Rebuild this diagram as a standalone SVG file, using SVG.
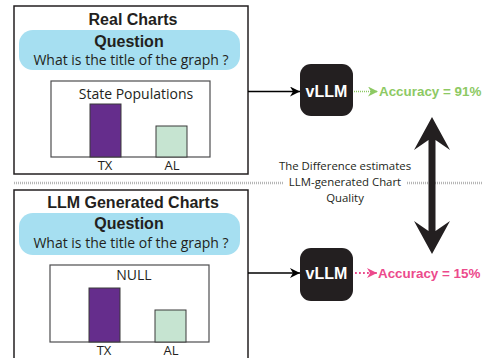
<svg xmlns="http://www.w3.org/2000/svg" width="483" height="358" viewBox="0 0 483 358">
<defs>
<style>
.box{fill:#fff;stroke:#231f20;stroke-width:1.5}
.pill{fill:#a6dff1}
.chart{fill:#fff;stroke:#4d4d4f;stroke-width:1.2}
.tx{fill:#652d8c;stroke:#3a3a3a;stroke-width:1}
.al{fill:#c6e4d1;stroke:#3a3a3a;stroke-width:1}
.h{font-family:"Liberation Sans",Arial,sans-serif;font-weight:bold;font-size:16px;fill:#231f20;text-anchor:middle}
.q{font-family:"Open Sans","Liberation Sans",sans-serif;font-size:14px;fill:#231f20;text-anchor:middle}
.lab{font-family:"Open Sans","Liberation Sans",sans-serif;font-size:13px;fill:#231f20;text-anchor:middle}
.vl{fill:#231f20}
.vt{font-family:"Liberation Sans",Arial,sans-serif;font-weight:bold;font-size:16px;fill:#fff;text-anchor:middle}
.acc{font-family:"Liberation Sans",Arial,sans-serif;font-weight:bold;font-size:13.4px}
.note{font-family:"Open Sans","Liberation Sans",sans-serif;font-size:11.4px;fill:#231f20;text-anchor:middle}
</style>
<marker id="ab" viewBox="0 0 10 10" refX="10" refY="5" markerWidth="10" markerHeight="10" markerUnits="userSpaceOnUse" orient="auto">
<path d="M0,0 L10,5 L0,10 L3,5 Z" fill="#000"/>
</marker>
<marker id="ag" viewBox="0 0 10 10" refX="10" refY="5" markerWidth="10" markerHeight="10" markerUnits="userSpaceOnUse" orient="auto">
<path d="M0,0 L10,5 L0,10 L3,5 Z" fill="#8dc963"/>
</marker>
<marker id="ap" viewBox="0 0 10 10" refX="10" refY="5" markerWidth="10" markerHeight="10" markerUnits="userSpaceOnUse" orient="auto">
<path d="M0,0 L10,5 L0,10 L3,5 Z" fill="#ec4a8c"/>
</marker>
</defs>
<rect width="483" height="358" fill="#fff"/>

<g id="separator">
<line x1="14" y1="183" x2="284" y2="183" stroke="#b5b5b5" stroke-width="2.5" stroke-dasharray="1 1"/>
<line x1="407" y1="183" x2="483" y2="183" stroke="#b5b5b5" stroke-width="2.5" stroke-dasharray="1 1"/>
</g>

<g id="real-charts">
<rect class="box" x="14" y="6" width="234" height="168"/>
<text class="h" x="133" y="25">Real Charts</text>
<rect class="pill" x="19" y="30" width="221" height="40" rx="14"/>
<text class="h" x="129" y="46.5">Question</text>
<text class="q" x="131" y="65">What is the title of the graph ?</text>
<rect class="chart" x="51" y="81" width="159" height="76"/>
<text class="q" x="136" y="99">State Populations</text>
<rect class="tx" x="90" y="104" width="31" height="53"/>
<rect class="al" x="156" y="126" width="31" height="31"/>
<text class="lab" x="105" y="170">TX</text>
<text class="lab" x="172" y="170">AL</text>
</g>

<g id="llm-charts">
<rect class="box" x="14" y="190" width="234" height="180"/>
<text class="h" x="133" y="208">LLM Generated Charts</text>
<rect class="pill" x="19" y="213" width="221" height="42" rx="14"/>
<text class="h" x="129" y="229">Question</text>
<text class="q" x="131" y="247.5">What is the title of the graph ?</text>
<rect class="chart" x="50" y="265" width="159" height="77"/>
<text class="q" x="134" y="280">NULL</text>
<rect class="tx" x="89" y="288" width="31" height="54"/>
<rect class="al" x="155" y="310" width="31" height="32"/>
<text class="lab" x="104" y="355">TX</text>
<text class="lab" x="171" y="355">AL</text>
</g>

<g id="vllm-top">
<rect class="vl" x="300" y="64" width="53" height="52" rx="11"/>
<text class="vt" x="326.5" y="97">vLLM</text>
</g>
<g id="vllm-bottom">
<rect class="vl" x="300" y="248" width="53" height="53" rx="11"/>
<text class="vt" x="326.5" y="279">vLLM</text>
</g>

<g id="acc-top">
<text class="acc" x="379" y="96" fill="#8dc963">Accuracy = 91%</text>
</g>
<g id="acc-bottom">
<text class="acc" x="378" y="278" fill="#ec4a8c">Accuracy = 15%</text>
</g>

<g id="note">
<text class="note" x="345" y="170">The Difference estimates</text>
<text class="note" x="345" y="186">LLM-generated Chart</text>
<text class="note" x="345" y="202">Quality</text>
</g>

<g id="connectors">
<line x1="248" y1="91.5" x2="300" y2="91.5" stroke="#000" stroke-width="1.3" marker-end="url(#ab)"/>
<line x1="248" y1="273" x2="300" y2="273" stroke="#000" stroke-width="1.3" marker-end="url(#ab)"/>
<line x1="354" y1="91.5" x2="378" y2="91.5" stroke="#8dc963" stroke-width="1.5" stroke-dasharray="1 1" marker-end="url(#ag)"/>
<line x1="355" y1="273" x2="377" y2="273" stroke="#ec4a8c" stroke-width="1.8" stroke-dasharray="1.8 2.2" marker-end="url(#ap)"/>
<path d="M432,117 L450,150 L435.5,140 L435.5,231 L450,221 L432,254 L414,221 L428.5,231 L428.5,140 L414,150 Z" fill="#231f20"/>
</g>
</svg>
